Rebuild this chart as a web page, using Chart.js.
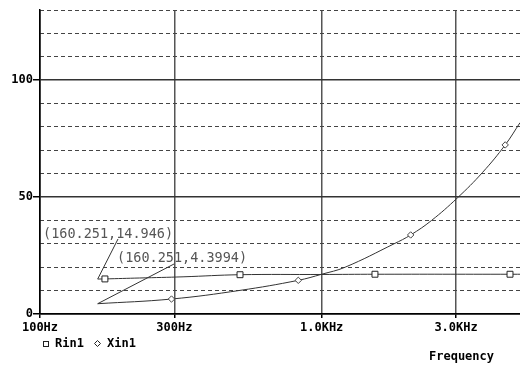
<!DOCTYPE html>
<html>
<head>
<meta charset="utf-8">
<script src="https://cdn.jsdelivr.net/npm/chart.js@4/dist/chart.umd.min.js"></script>
<style>
  html, body { margin: 0; padding: 0; background: #fff; overflow: hidden; }
  canvas { display: block; }
</style>
</head>
<body>
<canvas id="c" width="520" height="365"></canvas>
<script>
// Input resistance / reactance of the network against frequency
const rinFreq  = [160.251, 170, 226, 322, 513, 1000, 1546, 4663, 5060];
const rinVal   = [14.946, 15.0, 15.4, 15.9, 16.8, 16.9, 17.0, 17.0, 17.0];
const rinMarks = [170, 513, 1546, 4663];

const xinFreq  = [160.251, 293, 513, 826, 1000, 1211, 1806, 2070, 2455, 3030, 3729, 4483, 5060];
const xinVal   = [4.3994, 6.4, 10.1, 14.4, 17.0, 20.0, 30.0, 33.8, 40.0, 49.6, 60.6, 72.3, 81.8];
const xinMarks = [293, 826, 2070, 4483];

const freqTicks  = [100, 300, 1000, 3000];
const freqLabels = ['100Hz', '300Hz', '1.0KHz', '3.0KHz'];
const freqMin = 100, freqMax = 5060;

const ohmTicks = [0, 50, 100];
const ohmMin = 0, ohmMax = 130, ohmMinor = 10;

const MONO = '"DejaVu Sans Mono", "Liberation Mono", monospace';
const tickFont = { family: MONO, size: 12, weight: 'bold' };

const pts = (fs, vs) => fs.map((f, i) => ({ x: f, y: vs[i] }));

// cursor readouts, legend and axis caption
const overlay = {
  id: 'overlay',
  afterDraw(chart) {
    const { ctx, scales: { x, y } } = chart;
    ctx.save();

    const notes = [
      { f: rinFreq[0], v: rinVal[0], tx: 43,  ty: 238, ax: 118, ay: 239 },
      { f: xinFreq[0], v: xinVal[0], tx: 117, ty: 262, ax: 174, ay: 264 }
    ];
    ctx.font = '13.5px ' + MONO;
    ctx.textAlign = 'left';
    ctx.textBaseline = 'alphabetic';
    notes.forEach(n => {
      const px = x.getPixelForValue(n.f);
      const py = y.getPixelForValue(n.v);
      ctx.strokeStyle = '#333';
      ctx.lineWidth = 1;
      ctx.beginPath();
      ctx.moveTo(px, py);
      ctx.lineTo(n.ax, n.ay);
      ctx.stroke();
      ctx.fillStyle = '#555';
      ctx.fillText('(' + n.f + ',' + n.v + ')', n.tx, n.ty);
    });

    // legend
    ctx.strokeStyle = '#222';
    ctx.lineWidth = 1;
    ctx.strokeRect(43.5, 341.5, 5, 5);
    ctx.beginPath();
    ctx.moveTo(97.5, 340.5);
    ctx.lineTo(100.5, 343.5);
    ctx.lineTo(97.5, 346.5);
    ctx.lineTo(94.5, 343.5);
    ctx.closePath();
    ctx.stroke();
    ctx.fillStyle = '#000';
    ctx.font = 'bold 12px ' + MONO;
    ctx.fillText(chart.data.datasets[0].label, 55, 347);
    ctx.fillText(chart.data.datasets[1].label, 107, 347);

    // x axis caption
    ctx.fillText('Frequency', 429, 360);
    ctx.restore();
  }
};

new Chart(document.getElementById('c'), {
  type: 'line',
  data: {
    datasets: [
      {
        label: 'Rin1',
        data: pts(rinFreq, rinVal),
        borderColor: '#333',
        borderWidth: 1,
        tension: 0.4,
        pointStyle: 'rect',
        pointRadius: c => rinMarks.includes(c.raw && c.raw.x) ? 4.2 : 0,
        pointBackgroundColor: '#fff',
        pointBorderColor: '#222',
        pointBorderWidth: 1
      },
      {
        label: 'Xin1',
        data: pts(xinFreq, xinVal),
        borderColor: '#333',
        borderWidth: 1,
        tension: 0.4,
        pointStyle: 'rectRot',
        pointRadius: c => xinMarks.includes(c.raw && c.raw.x) ? 3.2 : 0,
        pointBackgroundColor: '#fff',
        pointBorderColor: '#444',
        pointBorderWidth: 1
      }
    ]
  },
  options: {
    responsive: false,
    animation: false,
    events: [],
    layout: { padding: { top: 10, left: 0, right: 0, bottom: 0 } },
    plugins: { legend: { display: false }, tooltip: { enabled: false } },
    scales: {
      x: {
        type: 'logarithmic',
        min: freqMin,
        max: freqMax,
        afterBuildTicks: s => { s.ticks = freqTicks.map(v => ({ value: v })); },
        afterFit: s => { s.height = 51; },
        ticks: {
          autoSkip: false,
          maxRotation: 0,
          padding: 3,
          color: '#000',
          font: tickFont,
          callback: v => freqLabels[freqTicks.indexOf(v)] || ''
        },
        grid: {
          color: c => (c.tick && c.tick.value === freqMin) ? '#000' : '#555',
          lineWidth: 1.5,
          tickLength: 4,
          tickColor: '#000'
        },
        border: { color: '#000', width: 1.5 }
      },
      y: {
        type: 'linear',
        position: 'left',
        min: ohmMin,
        max: ohmMax,
        afterBuildTicks: s => { s.ticks = ohmTicks.map(v => ({ value: v })); },
        afterFit: s => { s.width = 40; },
        ticks: { padding: 0, color: '#000', font: tickFont, callback: v => String(v) },
        grid: {
          color: c => (c.tick && c.tick.value === ohmMin) ? '#000' : '#333',
          lineWidth: 1.5,
          tickLength: 7,
          tickColor: '#000'
        },
        border: { color: '#000', width: 1.5 }
      },
      y2: {
        type: 'linear',
        position: 'right',
        min: ohmMin,
        max: ohmMax,
        afterFit: s => { s.width = 0; },
        ticks: { display: false, stepSize: ohmMinor },
        grid: {
          color: c => (c.tick && c.tick.value % 50 === 0) ? 'rgba(0,0,0,0)' : '#444',
          lineWidth: 1,
          drawTicks: false
        },
        border: { display: false, dash: [4, 3] }
      }
    }
  },
  plugins: [overlay]
});
</script>
</body>
</html>
